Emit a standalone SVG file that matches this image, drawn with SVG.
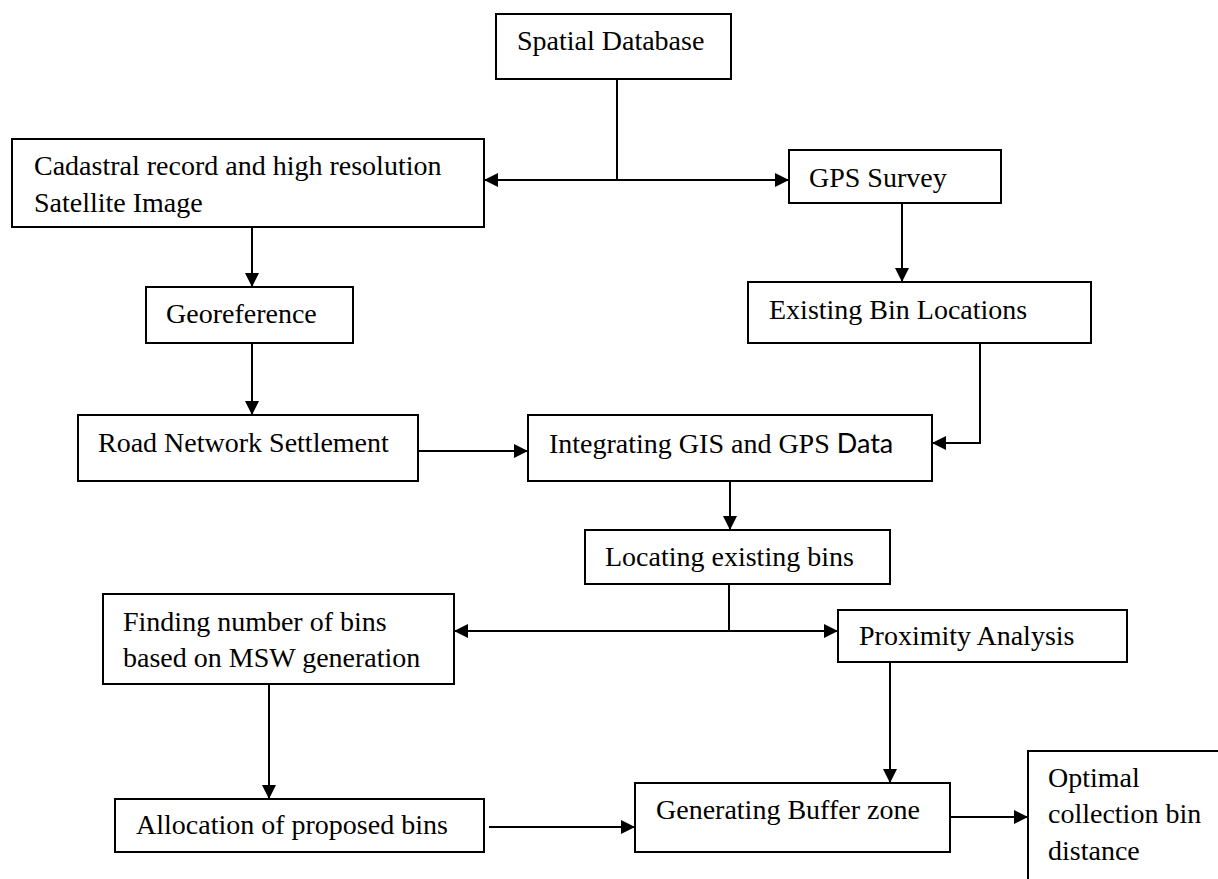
<svg xmlns="http://www.w3.org/2000/svg" width="1218" height="879" viewBox="0 0 1218 879">
<style>
.box{fill:#fff;stroke:#000;stroke-width:2}
.t{font-family:"Liberation Serif","Times New Roman",serif;font-size:28px;fill:#000}
.s{font-family:Lato,"Liberation Sans",sans-serif;font-size:27px}
.c{fill:none;stroke:#000;stroke-width:2}
</style>
<defs>
<marker id="ah" markerUnits="userSpaceOnUse" markerWidth="14" markerHeight="14" refX="13" refY="7" orient="auto">
<path d="M0,0 L14,7 L0,14 z" fill="#000"/>
</marker>
</defs>
<rect width="1218" height="879" fill="#fff"/>
<g id="connectors">
<path class="c" d="M617,80 V180"/>
<path class="c" d="M617,180 H485" marker-end="url(#ah)"/>
<path class="c" d="M617,180 H788" marker-end="url(#ah)"/>
<path class="c" d="M252,227 V286" marker-end="url(#ah)"/>
<path class="c" d="M252,343 V414" marker-end="url(#ah)"/>
<path class="c" d="M418,451 H527" marker-end="url(#ah)"/>
<path class="c" d="M902,203 V281" marker-end="url(#ah)"/>
<path class="c" d="M980,343 V443 H933" marker-end="url(#ah)"/>
<path class="c" d="M730,481 V529" marker-end="url(#ah)"/>
<path class="c" d="M729,584 V631"/>
<path class="c" d="M729,631 H455" marker-end="url(#ah)"/>
<path class="c" d="M729,631 H837" marker-end="url(#ah)"/>
<path class="c" d="M269,684 V798" marker-end="url(#ah)"/>
<path class="c" d="M890,662 V782" marker-end="url(#ah)"/>
<path class="c" d="M489,827 H634" marker-end="url(#ah)"/>
<path class="c" d="M950,817 H1027" marker-end="url(#ah)"/>
</g>
<g id="spatial-database">
<rect class="box" x="496" y="14" width="235" height="65"/>
<text class="t" x="517" y="50">Spatial Database</text>
</g>
<g id="cadastral">
<rect class="box" x="12" y="139" width="472" height="88"/>
<text class="t" x="34" y="175">Cadastral record and high resolution</text>
<text class="t" x="34" y="212">Satellite Image</text>
</g>
<g id="gps-survey">
<rect class="box" x="789" y="150" width="212" height="53"/>
<text class="t" x="809" y="187">GPS Survey</text>
</g>
<g id="georeference">
<rect class="box" x="146" y="287" width="207" height="56"/>
<text class="t" x="166" y="323">Georeference</text>
</g>
<g id="existing-bin-locations">
<rect class="box" x="748" y="282" width="343" height="61"/>
<text class="t" x="769" y="319">Existing Bin Locations</text>
</g>
<g id="road-network">
<rect class="box" x="78" y="415" width="340" height="66"/>
<text class="t" x="98" y="452">Road Network Settlement</text>
</g>
<g id="integrating">
<rect class="box" x="528" y="415" width="404" height="66"/>
<text class="t" x="549" y="453">Integrating GIS and GPS <tspan class="s">Data</tspan></text>
</g>
<g id="locating">
<rect class="box" x="585" y="530" width="305" height="54"/>
<text class="t" x="605" y="566">Locating existing bins</text>
</g>
<g id="finding">
<rect class="box" x="103" y="594" width="351" height="90"/>
<text class="t" x="123" y="631">Finding number of bins</text>
<text class="t" x="123" y="667">based on MSW generation</text>
</g>
<g id="proximity">
<rect class="box" x="838" y="610" width="289" height="52"/>
<text class="t" x="859" y="645">Proximity Analysis</text>
</g>
<g id="allocation">
<rect class="box" x="115" y="799" width="369" height="53"/>
<text class="t" x="136" y="834">Allocation of proposed bins</text>
</g>
<g id="generating">
<rect class="box" x="635" y="783" width="315" height="69"/>
<text class="t" x="656" y="819">Generating Buffer zone</text>
</g>
<g id="optimal">
<rect class="box" x="1028" y="751" width="230" height="200"/>
<text class="t" x="1048" y="787">Optimal</text>
<text class="t" x="1048" y="823">collection bin</text>
<text class="t" x="1048" y="860">distance</text>
</g>
</svg>
